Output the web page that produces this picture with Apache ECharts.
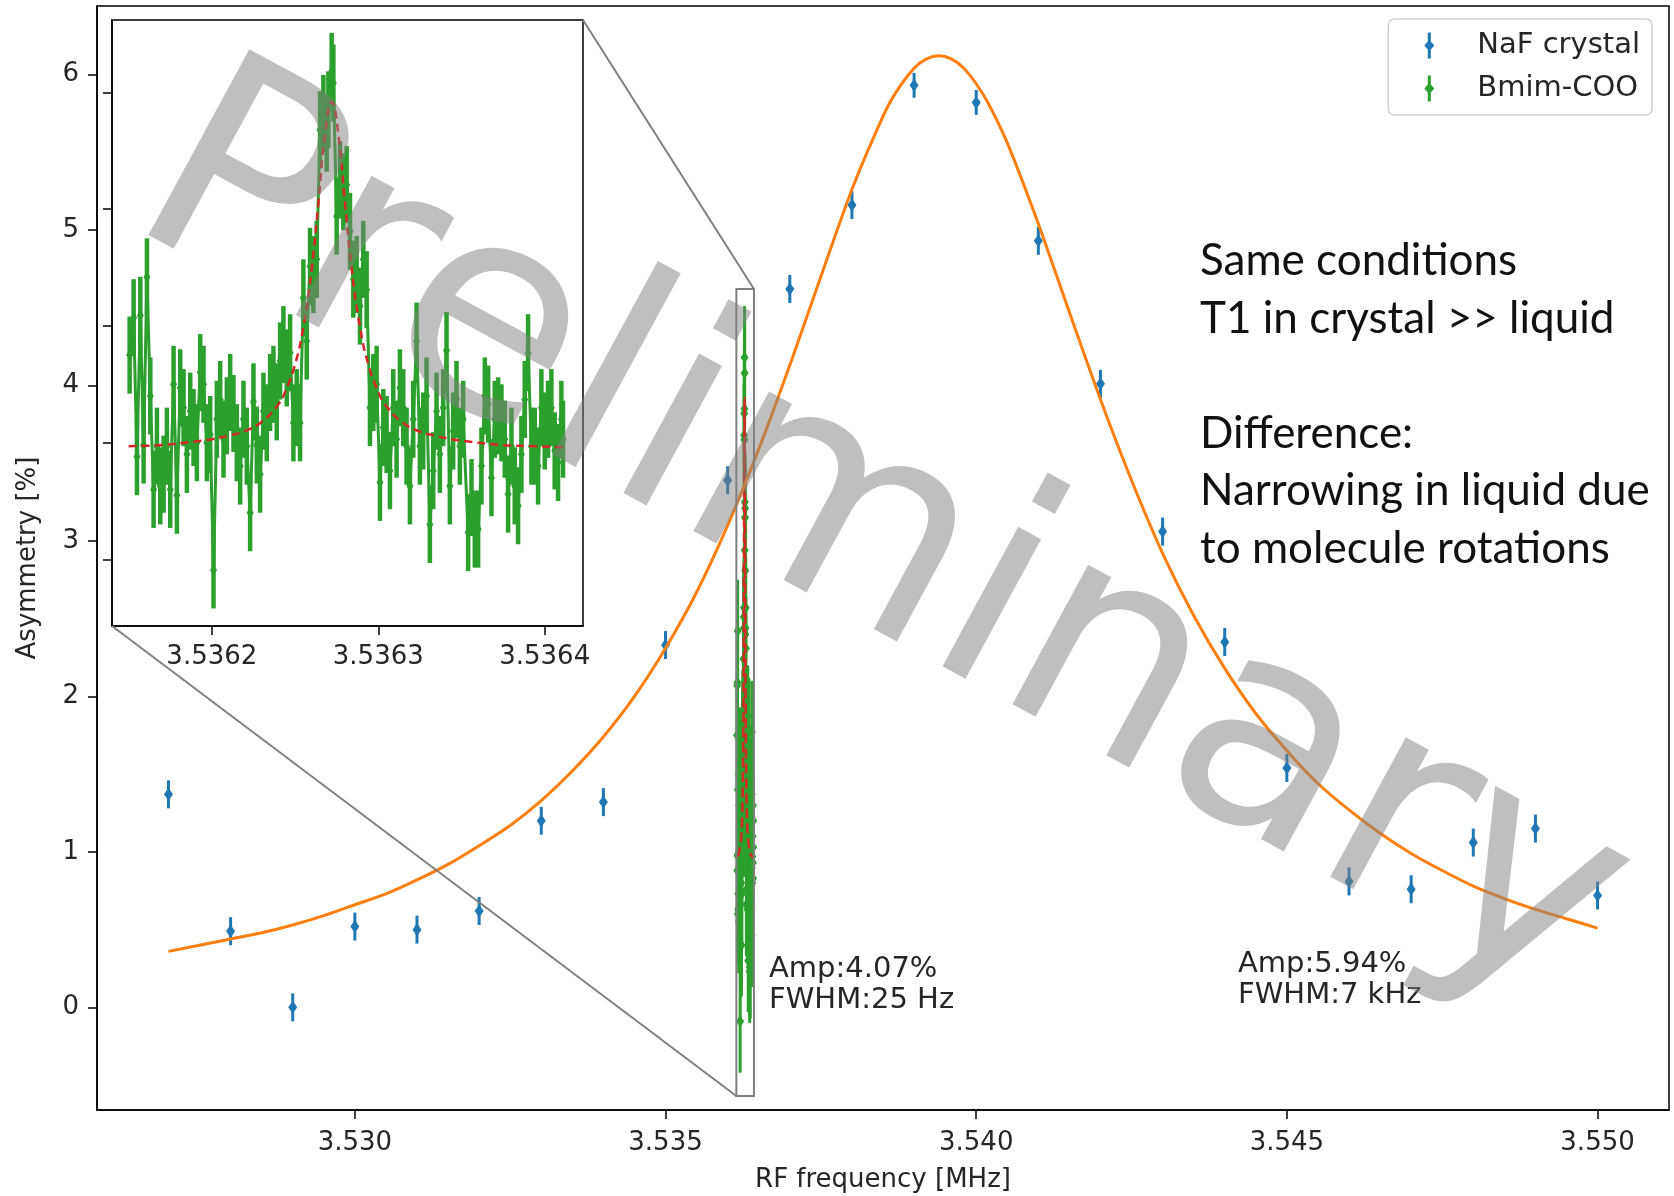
<!DOCTYPE html>
<html>
<head>
<meta charset="utf-8">
<script src="https://cdn.jsdelivr.net/npm/echarts@6/dist/echarts.min.js"></script>
<style>
  html, body { margin: 0; padding: 0; background: #fff; }
  #chart { width: 1674px; height: 1196px; }
</style>
</head>
<body>
<div id="chart"></div>
<script>
  // NaF crystal, 1 kHz steps
  const nafFreq = [3.527, 3.528, 3.529, 3.530, 3.531, 3.532, 3.533, 3.534, 3.535, 3.536, 3.537, 3.538,
    3.539, 3.540, 3.541, 3.542, 3.543, 3.544, 3.545, 3.546, 3.547, 3.548, 3.549, 3.550];
  const nafAsym = [1.37, 0.49, 0.00, 0.52, 0.50, 0.62, 1.20, 1.32, 2.33, 3.39, 4.62, 5.16,
    5.93, 5.82, 4.93, 4.01, 3.06, 2.35, 1.54, 0.81, 0.76, 1.06, 1.15, 0.72];
  const nafErr = [0.09, 0.09, 0.09, 0.09, 0.09, 0.09, 0.09, 0.09, 0.09, 0.09, 0.09, 0.09,
    0.08, 0.08, 0.09, 0.09, 0.09, 0.09, 0.09, 0.09, 0.09, 0.09, 0.09, 0.09];

  // orange fit curve for NaF
  const fitFreq = [3.527, 3.528, 3.5285, 3.529, 3.5295, 3.530, 3.5305, 3.531, 3.5315, 3.532, 3.5325,
    3.533, 3.5335, 3.534, 3.5345, 3.535, 3.5355, 3.536, 3.5365, 3.537, 3.5375, 3.538, 3.5385,
    3.5387, 3.539, 3.5392, 3.5394, 3.5396, 3.5398, 3.540, 3.5402, 3.5405, 3.541, 3.5415, 3.542, 3.5425,
    3.543, 3.5435, 3.544, 3.5445, 3.545, 3.5455, 3.546, 3.5465, 3.547, 3.5475, 3.548, 3.5485,
    3.549, 3.5495, 3.550];
  const fitAsym = [0.36, 0.44, 0.48, 0.53, 0.59, 0.66, 0.73, 0.82, 0.92, 1.04, 1.17,
    1.33, 1.52, 1.74, 2.00, 2.31, 2.67, 3.10, 3.59, 4.13, 4.70, 5.26, 5.73,
    5.88, 6.04, 6.10, 6.12, 6.10, 6.04, 5.94, 5.81, 5.56, 5.04, 4.47, 3.91, 3.39,
    2.92, 2.52, 2.18, 1.89, 1.65, 1.44, 1.27, 1.12, 0.99, 0.88, 0.78, 0.70,
    0.63, 0.57, 0.51];

  // Bmim-COO, frequency given as Hz above 3.536 MHz
  const bmimHz = [150.6, 153, 155, 157, 159, 161, 163, 165, 167, 169, 171, 173, 175, 177, 179, 181, 183, 185,
    187, 189, 191, 193, 195, 197, 199, 201, 203, 205, 207, 209, 211,
    213, 215, 217, 219, 221, 223, 225, 227, 229, 231, 233, 235, 237, 239, 241, 243, 245, 247, 249,
    251, 253, 255, 257, 259, 261, 263, 265, 267, 269, 270, 272, 273, 275, 277, 279, 281, 283,
    285, 287, 289, 291, 293, 295, 297, 299, 301, 303, 305, 307, 309, 311, 313, 315, 317, 319,
    321, 323, 325, 327, 329, 331, 333, 335, 337, 339, 341, 343, 345, 347, 349, 351,
    354, 356, 358, 360, 362, 364, 366, 368, 370, 372, 374, 376, 378, 380, 382, 384, 386, 388,
    390, 392, 394, 396, 398, 400, 402, 404, 406, 408, 410, 411];
  const bmimAsym = [1.75, 2.07, 0.88, 2.09, 0.98, 2.42, 1.40, 0.60, 0.97, 0.63, 0.73, 0.97, 0.60, 1.50, 0.55, 1.47, 1.30, 0.90,
    1.27, 1.13, 1.00, 1.60, 1.50, 1.00, 1.07, -0.09, 1.20, 1.37, 1.03, 1.23, 1.43,
    1.25, 1.00, 0.80, 1.20, 0.97, 0.40, 1.35, 0.98, 0.73, 1.27, 1.17, 1.43, 1.50, 1.35, 1.70, 1.84, 1.64, 1.77, 1.17,
    1.30, 1.17, 2.24, 1.87, 2.51, 2.44, 2.57, 3.68, 3.82, 3.65, 3.85, 4.18, 4.08, 2.94, 3.25, 3.15, 3.21, 2.81,
    2.40, 2.44, 2.17, 2.57, 2.31, 1.30, 1.43, 1.50, 0.66, 1.13, 1.07, 0.76, 1.30, 1.03, 1.47, 1.30, 0.97, 0.63,
    1.20, 1.87, 0.97, 1.10, 1.40, 0.30, 0.76, 1.27, 0.90, 1.30, 1.79, 0.63, 1.10, 1.37, 0.97, 1.20,
    0.23, 0.53, 0.26, 0.26, 0.80, 1.40, 1.33, 0.70, 1.20, 1.23, 1.17, 1.03, 0.56, 0.97, 0.63, 0.46, 0.90, 1.37,
    1.77, 0.97, 0.97, 0.80, 1.30, 1.10, 1.20, 1.30, 0.93, 0.83, 1.20, 1.03];
  const bmimErr = 0.33;

  // red dashed fit for Bmim-COO
  const bmimFitHz = [150, 170, 190, 200, 210, 220, 230, 240, 245, 250, 255, 260, 264, 268, 272,
    276, 280, 284, 289, 294, 299, 304, 314, 324, 334, 344, 354, 374, 394, 411];
  const bmimFitAsym = [0.97, 0.98, 1.01, 1.03, 1.06, 1.10, 1.18, 1.33, 1.47, 1.67, 1.99, 2.49, 3.05, 3.64, 3.92,
    3.64, 3.05, 2.49, 1.99, 1.67, 1.47, 1.33, 1.18, 1.10, 1.06, 1.03, 1.01, 0.98, 0.97, 0.96];

  const mainXTicks = [3.530, 3.535, 3.540, 3.545, 3.550];
  const mainYTicks = [0, 1, 2, 3, 4, 5, 6];
  const insetXTicks = [3.5362, 3.5363, 3.5364];
  const insetYTicks = [0, 1, 2, 3, 4];

  const mainX = [3.52585, 3.55115];
  const mainY = [-0.66, 6.44];
  const insetX = [3.53614, 3.536423];
  const insetY = [-0.57, 4.62];

  const BLUE = '#1f77b4', ORANGE = '#ff7f0e', GREEN = '#2ca02c', RED = '#d62728';
  const FONT = 'DejaVu Sans';

  const hzToMHz = hz => +(3.536 + hz * 1e-6).toFixed(7);
  const nafData = nafFreq.map((f, i) => [f, nafAsym[i], nafErr[i]]);
  const fitData = fitFreq.map((f, i) => [f, fitAsym[i]]);
  const bmimData = bmimHz.map((h, i) => [hzToMHz(h), bmimAsym[i], bmimErr]);
  const bmimFitData = bmimFitHz.map((h, i) => [hzToMHz(h), bmimFitAsym[i]]);

  function errorBars(color, lw, w, h) {
    return function (params, api) {
      const x = api.value(0), y = api.value(1), e = api.value(2);
      const hi = api.coord([x, y + e]);
      const lo = api.coord([x, y - e]);
      const c = api.coord([x, y]);
      return {
        type: 'group',
        children: [
          {type: 'line', shape: {x1: hi[0], y1: hi[1], x2: lo[0], y2: lo[1]}, style: {stroke: color, lineWidth: lw}},
          {type: 'polygon', shape: {points: [[c[0], c[1] - h], [c[0] + w, c[1]], [c[0], c[1] + h], [c[0] - w, c[1]]]},
            style: {fill: color}},
        ],
      };
    };
  }

  function valueAxis(grid, range, ticks, labels, fmt) {
    return {
      type: 'value', gridIndex: grid, min: range[0], max: range[1], z: grid ? 10 : 0,
      axisLine: {show: true, onZero: false, lineStyle: {color: '#000', width: 1.5}},
      axisTick: {show: true, customValues: ticks, length: 9, lineStyle: {color: '#000', width: 1.5}},
      axisLabel: {show: labels, customValues: ticks, formatter: fmt, fontFamily: FONT, fontSize: 26, color: '#262626', margin: 16},
      splitLine: {show: false},
    };
  }

  const chart = echarts.init(document.getElementById('chart'));
  const legendIcon = 'path://M3.5,0 H6.5 V9 L10,13 L6.5,17 V26 H3.5 V17 L0,13 L3.5,9 Z';

  const xMain = valueAxis(0, mainX, mainXTicks, true, v => v.toFixed(3));
  Object.assign(xMain, {name: 'RF frequency [MHz]', nameLocation: 'middle', nameGap: 57,
    nameTextStyle: {fontFamily: FONT, fontSize: 26, color: '#262626'}});
  xMain.axisLabel.margin = 20;
  const yMain = valueAxis(0, mainY, mainYTicks, true, v => String(v));
  Object.assign(yMain, {name: 'Asymmetry [%]', nameLocation: 'middle', nameGap: 56,
    nameTextStyle: {fontFamily: FONT, fontSize: 26, color: '#262626'}});
  yMain.axisLabel.margin = 18;
  const xInset = valueAxis(1, insetX, insetXTicks, true, v => v.toFixed(4));
  xInset.axisLabel.margin = 18;
  const yInset = valueAxis(1, insetY, insetYTicks, false, null);

  chart.setOption({
    animation: false,
    backgroundColor: '#fff',
    grid: [
      {left: 97, right: 5, top: 6, bottom: 86, show: true, borderColor: '#000', borderWidth: 1.5,
        outerBoundsMode: 'none', containLabel: false},
      {left: 112, top: 20, width: 471, height: 606, show: true, backgroundColor: '#fff',
        borderColor: '#000', borderWidth: 1.5, z: 10, outerBoundsMode: 'none', containLabel: false},
    ],
    xAxis: [xMain, xInset],
    yAxis: [yMain, yInset],
    legend: {
      orient: 'vertical', right: 22, top: 19, selectedMode: false,
      backgroundColor: 'rgba(255,255,255,0.85)', borderColor: '#d0d0d0', borderWidth: 1.5, borderRadius: 6,
      padding: [12, 12, 12, 36], itemGap: 14, itemWidth: 10, itemHeight: 27,
      textStyle: {fontFamily: FONT, fontSize: 29, color: '#262626', padding: [0, 0, 0, 38]},
      data: [{name: 'NaF crystal', icon: legendIcon}, {name: 'Bmim-COO', icon: legendIcon}],
    },
    series: [
      {name: 'NaF crystal', type: 'custom', xAxisIndex: 0, yAxisIndex: 0, itemStyle: {color: BLUE},
        renderItem: errorBars(BLUE, 3, 4.5, 6.5), data: nafData, z: 3},
      {name: 'Bmim-COO', type: 'custom', xAxisIndex: 0, yAxisIndex: 0, itemStyle: {color: GREEN},
        renderItem: errorBars(GREEN, 3, 4, 6), data: bmimData, z: 3},
      {name: 'Bmim-line', type: 'line', xAxisIndex: 0, yAxisIndex: 0, showSymbol: false,
        lineStyle: {color: GREEN, width: 2}, data: bmimData.map(d => [d[0], d[1]]), z: 3},
      {name: 'Bmim-fit', type: 'line', xAxisIndex: 0, yAxisIndex: 0, showSymbol: false, smooth: true,
        lineStyle: {color: RED, width: 2.5, type: 'dashed'}, data: bmimFitData, z: 4},
      {name: 'NaF-fit', type: 'line', xAxisIndex: 0, yAxisIndex: 0, showSymbol: false, smooth: 0.25,
        lineStyle: {color: ORANGE, width: 3}, data: fitData, z: 5},

      {name: 'Bmim-COO', type: 'custom', xAxisIndex: 1, yAxisIndex: 1, itemStyle: {color: GREEN}, clip: true,
        renderItem: errorBars(GREEN, 4.5, 3.5, 5.5), data: bmimData, z: 12},
      {name: 'Bmim-line-inset', type: 'line', xAxisIndex: 1, yAxisIndex: 1, showSymbol: false,
        lineStyle: {color: GREEN, width: 3}, data: bmimData.map(d => [d[0], d[1]]), z: 12},
      {name: 'Bmim-fit-inset', type: 'line', xAxisIndex: 1, yAxisIndex: 1, showSymbol: false, smooth: true,
        lineStyle: {color: RED, width: 2.5, type: [8, 5]}, data: bmimFitData, z: 13},
    ],
  });

  // zoom indicator: box in the main axes plus the two connector lines
  const px = (g, p) => chart.convertToPixel({gridIndex: g}, p);
  const boxTL = px(0, [insetX[0], insetY[1]]);
  const boxBR = px(0, [insetX[1], insetY[0]]);
  const insTL = px(1, [insetX[0], insetY[1]]);
  const insBR = px(1, [insetX[1], insetY[0]]);
  const gray = '#808080';

  chart.setOption({
    graphic: [
      {type: 'rect', z: 20, shape: {x: boxTL[0], y: boxTL[1], width: boxBR[0] - boxTL[0], height: boxBR[1] - boxTL[1]},
        style: {fill: null, stroke: gray, lineWidth: 2}},
      {type: 'line', z: 20, shape: {x1: insBR[0], y1: insTL[1], x2: boxBR[0], y2: boxTL[1]},
        style: {stroke: gray, lineWidth: 2}},
      {type: 'line', z: 20, shape: {x1: insTL[0], y1: insBR[1], x2: boxTL[0], y2: boxBR[1]},
        style: {stroke: gray, lineWidth: 2}},
      {type: 'text', z: 30, x: 769, y: 954, style: {text: 'Amp:4.07%\nFWHM:25 Hz', font: '29px "DejaVu Sans"',
        fill: '#262626', lineHeight: 31, textVerticalAlign: 'top'}},
      {type: 'text', z: 30, x: 1238, y: 949, style: {text: 'Amp:5.94%\nFWHM:7 kHz', font: '29px "DejaVu Sans"',
        fill: '#262626', lineHeight: 31, textVerticalAlign: 'top'}},
      {type: 'text', z: 30, x: 1200, y: 232, style: {
        text: 'Same conditions\nT1 in crystal >> liquid\n\nDifference:\nNarrowing in liquid due\nto molecule rotations',
        font: '44px Lato', fill: '#111', lineHeight: 57.6, textVerticalAlign: 'top'}},
      {type: 'text', z: 100, x: 879, y: 546, rotation: -28.5 * Math.PI / 180,
        style: {text: 'Preliminary', font: '290px "DejaVu Sans"', fill: 'rgba(128,128,128,0.5)',
          textAlign: 'center', textVerticalAlign: 'middle'}},
    ],
  });
</script>
</body>
</html>
